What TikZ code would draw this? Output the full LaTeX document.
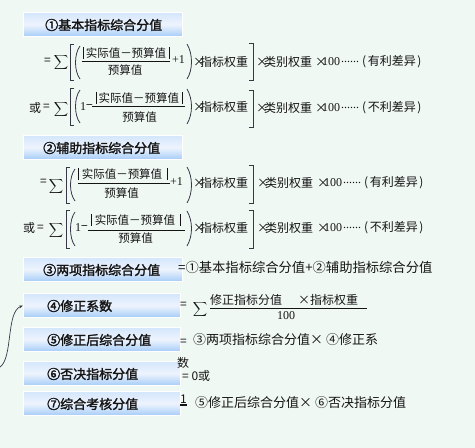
\documentclass[tikz,border=0pt]{standalone}
\usepackage{fontspec}
\setmainfont{Liberation Serif}
\newfontfamily\cjk{Noto Sans CJK SC}
\newfontfamily\cjkb{Noto Sans CJK SC}[FakeBold=2]
\usetikzlibrary{arrows.meta}
\definecolor{bgc}{RGB}{240,248,244}
\definecolor{btop}{RGB}{212,230,252}
\definecolor{bmid}{RGB}{238,244,253}
\definecolor{bbot}{RGB}{166,204,248}
\definecolor{ink}{RGB}{20,20,20}
\definecolor{brc}{RGB}{55,55,70}
\tikzset{
 hbox/.style={draw=white, line width=1pt, top color=btop, bottom color=bbot, middle color=bmid, minimum width=159pt, minimum height=24pt, anchor=north west, inner sep=0pt},
 ttl/.style={font=\cjkb\fontsize{13}{15}\selectfont, inner sep=0pt, anchor=west, text=ink},
 ft/.style={font=\cjk\fontsize{12}{14}\selectfont, inner sep=0pt, anchor=west, text=ink},
 fr/.style={font=\cjk\fontsize{11.5}{14}\selectfont, inner sep=0pt, text=ink},
 pr/.style={font=\cjk\fontsize{12}{14}\selectfont, inner sep=0pt, anchor=west, text=ink},
 dts/.style={font=\fontsize{12}{14}\selectfont, inner sep=0pt, anchor=west, text=ink},
 nm/.style={font=\fontsize{12}{14}\selectfont, inner sep=0pt, anchor=west, text=ink},
 tx/.style={font=\cjk\fontsize{13}{15}\selectfont, inner sep=0pt, anchor=west, text=ink},
 sig/.style={font=\fontsize{10}{12}\selectfont, inner sep=0pt, text=ink},
 brk/.style={draw=brc, line width=0.8pt},
 fl/.style={draw=ink, line width=0.6pt}
}
\begin{document}
\begin{tikzpicture}[x=1pt,y=-1pt]
\useasboundingbox (0,0) rectangle (475,448);
\fill[bgc] (0,0) rectangle (475,448);

% boxes
\node[hbox] (b1) at (23,12) {};
\node[hbox] (b2) at (23,135) {};
\node[hbox] (b3) at (23,257) {};
\node[hbox, minimum width=157pt] (b4) at (23,293) {};
\node[hbox, minimum width=157pt] (b5) at (23,327) {};
\node[hbox, minimum width=157pt] (b6) at (23,361) {};
\node[hbox, minimum width=157pt] (b7) at (23,391) {};
\node[ttl] (t1) at (45,25) {①基本指标综合分值};
\node[ttl] (t2) at (43,148) {②辅助指标综合分值};
\node[ttl] (t3) at (43,270) {③两项指标综合分值};
\node[ttl] (t4) at (47,306) {④修正系数};
\node[ttl] (t5) at (47,340) {⑤修正后综合分值};
\node[ttl] (t6) at (47,374) {⑥否决指标分值};
\node[ttl] (t7) at (47,404) {⑦综合考核分值};

% ---------- line 1 ----------
\node[ft] (e1) at (44,61) {=};
\node[sig] (s1) at (61,62) {$\displaystyle\sum$};
\draw[brk] (74,44) -- (70,44) -- (70,80) -- (74,80);
\draw[brk] (80,46) .. controls (74,54) and (74,71) .. (80,79);
\node[fr] (n1) at (126,53) {实际值－预算值};
\draw[fl] (83,47) -- (83,59);
\draw[fl] (169,47) -- (169,59);
\draw[fl] (82,61) -- (170,61);
\node[fr] (d1) at (125,70) {预算值};
\node[nm] (p1) at (172,60) {+1};
\draw[brk] (187,44) .. controls (193,54) and (193,70) .. (187,79);
\node[ft] (m1) at (193,62) {×};
\node[ft] (w1) at (200,62) {指标权重};
\draw[brk] (249,43) -- (253,43) -- (253,80) -- (249,80);
\node[ft] (m1b) at (256,62) {×};
\node[ft] (c1) at (264,62) {类别权重};
\node[ft] (m1c) at (315,62) {×};
\node[nm] (h1) at (322,62) {100};
\node[dts] (dd1) at (341,62) {......};
\node[pr] (r1) at (362,62) {(\kern1.5pt有利差异\kern1.5pt)};

% ---------- line 2 ----------
\node[ft] (o2) at (29,108) {或};
\node[ft] (e2) at (43,107) {=};
\node[sig] (s2) at (61,109) {$\displaystyle\sum$};
\draw[brk] (74,88) -- (70,88) -- (70,125) -- (74,125);
\draw[brk] (80,90) .. controls (74,98) and (74,115) .. (80,123);
\node[nm] (u2) at (80,107) {1};
\node[ft] (mi2) at (86,107) {−};
\node[fr] (n2) at (139,98) {实际值－预算值};
\draw[fl] (96,92) -- (96,104);
\draw[fl] (182,92) -- (182,104);
\draw[fl] (92,106) -- (185,106);
\node[fr] (d2) at (139.5,117) {预算值};
\draw[brk] (187,89) .. controls (193,99) and (193,114) .. (187,124);
\node[ft] (m2) at (193,107) {×};
\node[ft] (w2) at (200,107) {指标权重};
\draw[brk] (249,90) -- (253,90) -- (253,127) -- (249,127);
\node[ft] (m2b) at (256,108) {×};
\node[ft] (c2) at (264,108) {类别权重};
\node[ft] (m2c) at (315,108) {×};
\node[nm] (h2) at (322,108) {100};
\node[dts] (dd2) at (341,108) {......};
\node[pr] (r2) at (362,108) {(\kern1.5pt不利差异\kern1.5pt)};

% ---------- line 3 ----------
\node[ft] (e3) at (40,182) {=};
\node[sig] (s3) at (56,186) {$\displaystyle\sum$};
\draw[brk] (70,167) -- (66,167) -- (66,203) -- (70,203);
\draw[brk] (75,169) .. controls (69,177) and (69,193) .. (75,201);
\node[fr] (n3) at (122,174) {实际值－预算值};
\draw[fl] (78,168) -- (78,180);
\draw[fl] (167,168) -- (167,180);
\draw[fl] (78,183) -- (170,183);
\node[fr] (d3) at (121.5,193) {预算值};
\node[nm] (p3) at (170,182) {+1};
\draw[brk] (187,167) .. controls (193,177) and (193,193) .. (187,203);
\node[ft] (m3) at (193,183) {×};
\node[ft] (w3) at (200,183) {指标权重};
\draw[brk] (249,165) -- (253,165) -- (253,203) -- (249,203);
\node[ft] (m3b) at (257,183) {×};
\node[ft] (c3) at (265,183) {类别权重};
\node[ft] (m3c) at (317,183) {×};
\node[nm] (h3) at (324,183) {100};
\node[dts] (dd3) at (343,183) {......};
\node[pr] (r3) at (364,183) {(\kern1.5pt有利差异\kern1.5pt)};

% ---------- line 4 ----------
\node[ft] (o4) at (23,228) {或};
\node[ft] (e4) at (37,228) {=};
\node[sig] (s4) at (56,230) {$\displaystyle\sum$};
\draw[brk] (70,210) -- (66,210) -- (66,248) -- (70,248);
\draw[brk] (75,212) .. controls (69,220) and (69,238) .. (75,246);
\node[nm] (u4) at (75,228) {1};
\node[ft] (mi4) at (81,228) {−};
\node[fr] (n4) at (135,220) {实际值－预算值};
\draw[fl] (91,214) -- (91,226);
\draw[fl] (180,214) -- (180,226);
\draw[fl] (88,230) -- (185,230);
\node[fr] (d4) at (135.5,238) {预算值};
\draw[brk] (187,211) .. controls (193,221) and (193,236) .. (187,246);
\node[ft] (m4) at (193,228) {×};
\node[ft] (w4) at (200,228) {指标权重};
\draw[brk] (249,210) -- (253,210) -- (253,248) -- (249,248);
\node[ft] (m4b) at (257,228) {×};
\node[ft] (c4) at (265,228) {类别权重};
\node[ft] (m4c) at (317,228) {×};
\node[nm] (h4) at (324,228) {100};
\node[dts] (dd4) at (343,228) {......};
\node[pr] (r4) at (364,228) {(\kern1.5pt不利差异\kern1.5pt)};

% ---------- section 3 ----------
\node[tx, font=\cjk\fontsize{13.3}{15}\selectfont] (q3) at (178,267) {=①基本指标综合分值+②辅助指标综合分值};

% ---------- section 4 ----------
\node[ft] (e5) at (180,305) {=};
\node[sig, font=\fontsize{11}{13}\selectfont] (s5) at (200,309) {$\displaystyle\sum$};
\node[ft] (n5) at (210,300) {修正指标分值};
\node[ft] (w5) at (298,300) {×指标权重};
\draw[fl] (210,308) -- (367,308);
\node[nm, anchor=center] (d5) at (286,316) {100};

% ---------- section 5 ----------
\node[ft] (e6) at (180,342) {=};
\node[tx] (q5) at (193,340) {③两项指标综合分值× ④修正系};
\node[ft] (sh) at (177,363) {数};
\node[ft] (q6) at (182,376) {= 0或};
\node[ft] (one) at (180,399) {1};
\draw[ink, line width=1.4pt] (180,405) -- (187,405);
\node[tx] (q7) at (195,403) {⑤修正后综合分值× ⑥否决指标分值};

% curved arrow
\coordinate (st) at (0,367);
\draw[brc, line width=0.7pt, -{Stealth[length=4pt,width=3pt]}] (st) .. controls (13,358) and (6,312) .. (b4.west);
\end{tikzpicture}
\end{document}
